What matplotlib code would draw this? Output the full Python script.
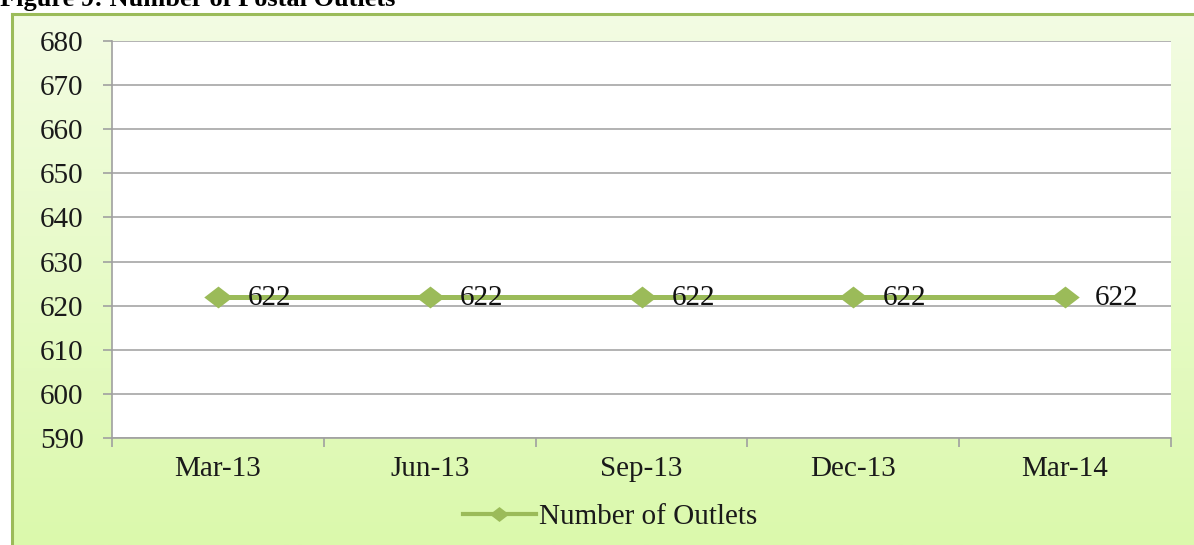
import matplotlib
matplotlib.use("Agg")
import matplotlib.pyplot as plt
import numpy as np
from matplotlib.lines import Line2D

categories = ["Mar-13", "Jun-13", "Sep-13", "Dec-13", "Mar-14"]
outlets = [622, 622, 622, 622, 622]
yticks = [590, 600, 610, 620, 630, 640, 650, 660, 670, 680]
series_name = "Number of Outlets"
title = "Figure 9: Number of Postal Outlets"

W, H = 1194, 545
fig = plt.figure(figsize=(W / 100, H / 100), dpi=100)
fig.patch.set_facecolor("white")
plt.rcParams["font.family"] = ["Liberation Serif", "DejaVu Serif"]

FS = 21
GREEN = "#9bbb59"
diamond = [(-1.3, 0), (0, 1), (1.3, 0), (0, -1), (-1.3, 0)]

# background chart area with gradient
bx0, by_top = 12, 14
bg = fig.add_axes([bx0 / W, 0, 1 - bx0 / W, (H - by_top) / H], zorder=0)
top = np.array([0xf3, 0xfc, 0xe3]) / 255
bot = np.array([0xdb, 0xf9, 0xac]) / 255
t = np.linspace(0, 1, 256)[:, None]
grad = top[None, :] * (1 - t) + bot[None, :] * t
bg.imshow(grad[:, None, :], aspect="auto", extent=[0, 1, 0, 1], origin="upper")
bg.set_xlim(0, 1); bg.set_ylim(0, 1)
bg.axis("off")
fig.add_artist(Line2D([bx0 / W, bx0 / W], [0, (H - by_top) / H], color=GREEN, lw=2.2, transform=fig.transFigure, zorder=1))
fig.add_artist(Line2D([bx0 / W, 1], [(H - by_top) / H, (H - by_top) / H], color=GREEN, lw=2.2, transform=fig.transFigure, zorder=1))

# plot area
px0, px1, py0, py1 = 112, 1171, 41, 438
ax = fig.add_axes([px0 / W, (H - py1) / H, (px1 - px0) / W, (py1 - py0) / H], zorder=2)
ax.set_facecolor("white")
x = np.arange(len(categories))
ax.plot(x, outlets, color=GREEN, lw=3.6, marker=diamond, markersize=20.5, markeredgewidth=0, zorder=3,
        label=series_name)
for xi, v in zip(x, outlets):
    ax.annotate(str(v), (xi, v), xytext=(21.5, -0.5), textcoords="offset points", ha="left", va="center",
                fontsize=FS, color="#111111", zorder=4)

ax.set_xlim(-0.5, len(categories) - 0.5)
ax.set_ylim(590, 680)
ax.set_yticks(yticks)
ax.set_yticklabels([str(v) for v in yticks], fontsize=FS, color="#1a1a1a")
ax.yaxis.grid(True, color="#a6a6a6", lw=1.2)
ax.set_axisbelow(True)
ax.set_xticks(x)
ax.set_xticklabels(categories, fontsize=FS, color="#1a1a1a")
ax.set_xticks(np.arange(-0.5, len(categories)), minor=True)
ax.tick_params(axis="x", which="major", length=0, pad=13)
ax.tick_params(axis="x", which="minor", length=6.5, color="#a0a0a0", width=1.2, direction="out")
ax.tick_params(axis="y", length=6.5, color="#a0a0a0", width=1.2, direction="out", pad=14)
for s in ["top", "right"]:
    ax.spines[s].set_visible(False)
for s in ["left", "bottom"]:
    ax.spines[s].set_color("#a0a0a0")
    ax.spines[s].set_linewidth(1.2)

leg = fig.legend(handles=[Line2D([0], [0], color=GREEN, lw=3, marker=diamond, markersize=14, markeredgewidth=0)],
                 labels=[series_name], loc="center", bbox_to_anchor=(610 / W, (H - 517) / H),
                 frameon=False, fontsize=FS, handlelength=2.5, handletextpad=0.1)
for txt in leg.get_texts():
    txt.set_color("#1a1a1a")

fig.text(0, (H - 6) / H, title, fontsize=19, fontweight="bold", ha="left", va="baseline", color="black")

fig.savefig("out.png", dpi=100)
